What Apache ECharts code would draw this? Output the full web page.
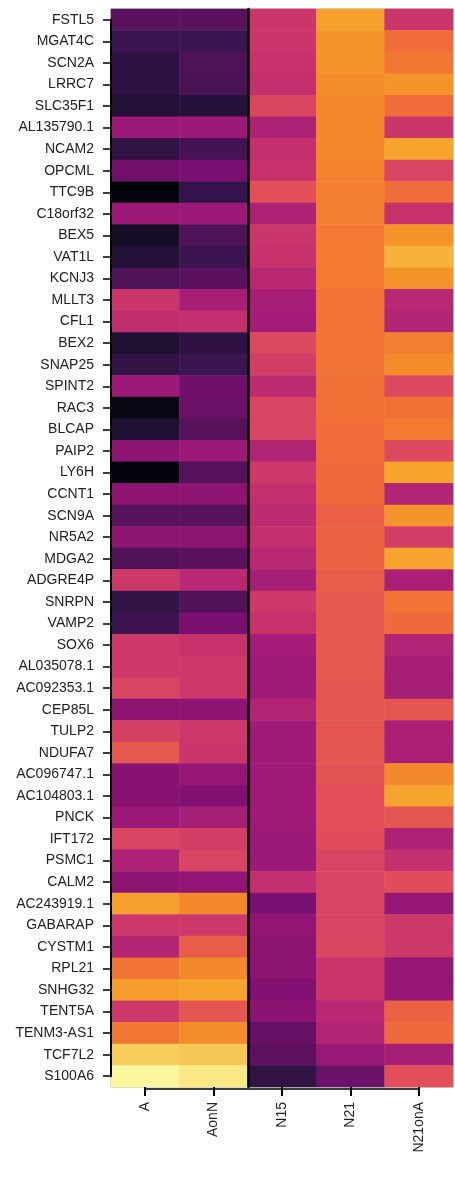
<!DOCTYPE html>
<html>
<head>
<meta charset="utf-8">
<script src="https://cdn.jsdelivr.net/npm/echarts@6/dist/echarts.min.js"></script>
<style>
html,body{margin:0;padding:0;background:#fff;}
#chart{width:455px;height:1180px;}
</style>
</head>
<body>
<div id="chart"></div>
<script>
var genes = ["FSTL5","MGAT4C","SCN2A","LRRC7","SLC35F1","AL135790.1","NCAM2","OPCML","TTC9B","C18orf32",
"BEX5","VAT1L","KCNJ3","MLLT3","CFL1","BEX2","SNAP25","SPINT2","RAC3","BLCAP",
"PAIP2","LY6H","CCNT1","SCN9A","NR5A2","MDGA2","ADGRE4P","SNRPN","VAMP2","SOX6",
"AL035078.1","AC092353.1","CEP85L","TULP2","NDUFA7","AC096747.1","AC104803.1","PNCK","IFT172","PSMC1",
"CALM2","AC243919.1","GABARAP","CYSTM1","RPL21","SNHG32","TENT5A","TENM3-AS1","TCF7L2","S100A6"];
var samples = ["A","AonN","N15","N21","N21onA"];

var valA = [0.22,0.15,0.11,0.11,0.08,0.39,0.12,0.28,0.00,0.39,
0.05,0.08,0.19,0.52,0.49,0.07,0.12,0.39,0.01,0.07,
0.35,0.00,0.35,0.21,0.35,0.20,0.53,0.12,0.15,0.53,
0.53,0.57,0.35,0.56,0.64,0.33,0.33,0.39,0.57,0.44,
0.35,0.84,0.53,0.45,0.72,0.83,0.53,0.73,0.91,0.99];
var valAonN = [0.22,0.15,0.19,0.18,0.09,0.39,0.17,0.30,0.13,0.39,
0.19,0.15,0.22,0.42,0.50,0.11,0.15,0.27,0.26,0.21,
0.39,0.21,0.35,0.21,0.35,0.22,0.47,0.20,0.30,0.51,
0.53,0.53,0.35,0.53,0.52,0.37,0.31,0.42,0.55,0.57,
0.36,0.78,0.53,0.65,0.78,0.85,0.63,0.79,0.90,0.96];
var valN15 = [0.52,0.52,0.51,0.50,0.58,0.44,0.50,0.51,0.61,0.44,
0.52,0.51,0.47,0.42,0.41,0.59,0.55,0.48,0.57,0.57,
0.45,0.53,0.50,0.48,0.50,0.47,0.42,0.53,0.51,0.41,
0.40,0.40,0.45,0.40,0.40,0.40,0.40,0.40,0.39,0.39,
0.50,0.30,0.36,0.35,0.35,0.31,0.34,0.25,0.23,0.12];
var valN21 = [0.84,0.81,0.81,0.79,0.78,0.78,0.78,0.76,0.75,0.75,
0.74,0.74,0.74,0.72,0.72,0.72,0.72,0.71,0.71,0.70,
0.70,0.69,0.69,0.66,0.67,0.67,0.65,0.64,0.64,0.64,
0.64,0.63,0.63,0.63,0.63,0.62,0.61,0.61,0.60,0.57,
0.57,0.57,0.57,0.58,0.52,0.52,0.47,0.45,0.38,0.26];
var valN21onA = [0.52,0.70,0.73,0.81,0.70,0.52,0.85,0.57,0.70,0.51,
0.81,0.87,0.81,0.47,0.45,0.75,0.79,0.59,0.71,0.74,
0.59,0.85,0.45,0.81,0.55,0.85,0.43,0.72,0.69,0.45,
0.42,0.42,0.63,0.43,0.43,0.78,0.85,0.63,0.44,0.50,
0.60,0.37,0.53,0.53,0.37,0.37,0.67,0.69,0.42,0.61];

var palette = ["#03040c","#160e28","#2a1240","#3c1450","#521258","#661166","#7c1070","#8e1474","#a01a78","#b22474",
"#c42f6e","#d23e66","#e04c5c","#e85c4a","#f06c38","#f37e30","#f5902a","#f7a42e","#f8c655","#f9e47c","#fefca8"];

var cols = [valA, valAonN, valN15, valN21, valN21onA];
var data = [];
cols.forEach(function(arr, xi){
  arr.forEach(function(v, yi){ data.push([xi, yi, v]); });
});

var G = {left:111, top:9, width:342, height:1078};
var rowH = G.height / genes.length;
var colW = G.width / samples.length;
var font = {fontFamily:"Liberation Sans, Arial, sans-serif", fontSize:14, color:"#222"};

var chart = echarts.init(document.getElementById('chart'), null, {renderer:'canvas'});
chart.setOption({
  animation:false,
  backgroundColor:'#fff',
  grid:[
    {left:G.left, top:G.top, width:G.width, height:G.height, show:true, borderColor:'#a8a8a8', borderWidth:1, backgroundColor:'transparent'},
    {left:G.left, top:G.top + rowH/2, width:1, height:G.height - rowH},
    {left:G.left + colW/2, top:G.top + G.height + 1, width:G.width - colW, height:1},
    {left:G.left, top:G.top, width:2*colW, height:G.height}
  ],
  xAxis:[
    {type:'category', data:samples, gridIndex:0, position:'bottom', z:10,
     axisLine:{show:false},
     axisTick:{show:true, alignWithLabel:true, length:9, lineStyle:{color:'#000', width:2}},
     axisLabel:Object.assign({rotate:90, margin:15}, font),
     splitLine:{show:false}},
    {type:'value', gridIndex:1, show:false, min:0, max:1},
    {type:'value', gridIndex:2, position:'bottom', min:0, max:1, z:10,
     axisLine:{show:true, onZero:false, lineStyle:{color:'#000', width:1.5}},
     axisTick:{show:false}, axisLabel:{show:false}, splitLine:{show:false}},
    {type:'value', gridIndex:3, show:false, min:0, max:1}
  ],
  yAxis:[
    {type:'category', data:genes, inverse:true, gridIndex:0, z:10,
     axisLine:{show:false},
     axisTick:{show:true, alignWithLabel:true, length:8, lineStyle:{color:'#000', width:1.5}},
     axisLabel:Object.assign({margin:17}, font),
     splitLine:{show:false}},
    {type:'value', gridIndex:1, position:'left', min:0, max:1, z:10,
     axisLine:{show:true, onZero:false, lineStyle:{color:'#000', width:2}},
     axisTick:{show:false}, axisLabel:{show:false}, splitLine:{show:false}},
    {type:'value', gridIndex:2, show:false, min:0, max:1},
    {type:'value', gridIndex:3, position:'right', min:0, max:1, z:10,
     axisLine:{show:true, onZero:false, lineStyle:{color:'#000', width:2.5}},
     axisTick:{show:false}, axisLabel:{show:false}, splitLine:{show:false}}
  ],
  visualMap:{show:false, min:0, max:1, dimension:2, seriesIndex:0, inRange:{color:palette}},
  series:[{
    type:'heatmap', xAxisIndex:0, yAxisIndex:0, data:data,
    itemStyle:{borderWidth:0},
    emphasis:{disabled:true}
  }]
});
</script>
</body>
</html>
